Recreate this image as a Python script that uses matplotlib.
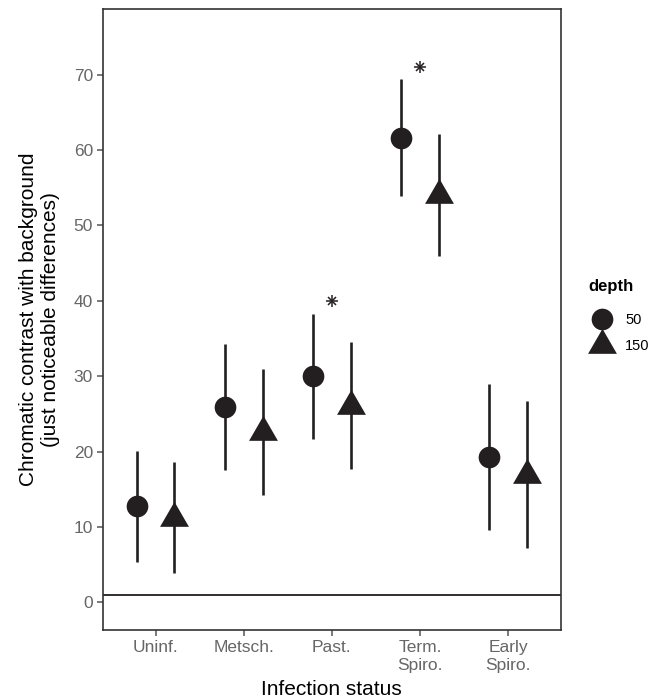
import numpy as np
import matplotlib.pyplot as plt
from matplotlib.path import Path

plt.rcParams['font.family'] = ['Liberation Sans', 'DejaVu Sans']

# Data (means and 95% CI bounds)
status = ['Uninf.', 'Metsch.', 'Past.', 'Term.\nSpiro.', 'Early\nSpiro.']
mean_50 = [12.8, 25.9, 30.0, 61.6, 19.3]
low_50 = [5.4, 17.6, 21.7, 53.9, 9.6]
high_50 = [20.1, 34.3, 38.3, 69.4, 28.9]
mean_150 = [11.2, 22.6, 26.1, 54.0, 16.9]
low_150 = [3.9, 14.2, 17.7, 46.0, 7.2]
high_150 = [18.6, 30.9, 34.5, 62.1, 26.7]
star_pos = [3, 4]
star_y = [40.0, 71.0]
threshold = 1

ink = '#231f20'
grey = '#666666'

# triangle centred on its centroid, like R's pch 17
tri = Path([(0, 1), (-0.866, -0.5), (0.866, -0.5), (0, 1)],
           [Path.MOVETO, Path.LINETO, Path.LINETO, Path.CLOSEPOLY])

fig = plt.figure(figsize=(6.62, 7.0), dpi=100)
ax = fig.add_axes([0.155, 0.1, 0.6925, 0.887])

x = np.arange(1, len(status) + 1)
dodge = 0.215

ax.axhline(threshold, color=ink, lw=1.3, zorder=1)

ax.vlines(x - dodge, low_50, high_50, color=ink, lw=1.9, zorder=2)
ax.vlines(x + dodge, low_150, high_150, color=ink, lw=1.9, zorder=2)
h50, = ax.plot(x - dodge, mean_50, 'o', ms=15.6, color=ink, mec='none',
               ls='none', zorder=3, label='50')
h150, = ax.plot(x + dodge, mean_150, marker=tri, ms=24, color=ink, mec='none',
                ls='none', zorder=3, label='150')

# significance asterisks (pch 8 style)
ax.plot(star_pos, star_y, '+', ms=8, mew=1.1, color=ink, ls='none')
ax.plot(star_pos, star_y, 'x', ms=5.6, mew=1.1, color=ink, ls='none')

ax.set_xlim(0.4, 5.6)
ax.set_ylim(-3.67, 78.7)
ax.set_xticks(x)
ax.set_xticklabels(status, linespacing=1.25)
ax.set_yticks(np.arange(0, 80, 10))

ax.tick_params(colors='#555555', labelsize=12.5, length=4, width=1.1,
               labelcolor=grey, pad=3)
for s in ax.spines.values():
    s.set_color('#333333')
    s.set_linewidth(1.2)

ax.set_xlabel('Infection status', fontsize=15, color='black', labelpad=5)
ax.set_ylabel('Chromatic contrast with background\n(just noticeable differences)',
              fontsize=15, color='black', labelpad=10, linespacing=1.15)

fig.text(588 / 662, 1 - 287 / 700, 'depth', fontsize=12, fontweight='bold',
         va='center', ha='left', color='black')
leg = fig.legend(handles=[h50, h150], loc='upper left',
                 bbox_to_anchor=(588 / 662, 1 - 313.5 / 700), frameon=False,
                 fontsize=10.5, handlelength=1.9, handletextpad=0.65,
                 labelspacing=0.81, borderaxespad=0, borderpad=0)

fig.savefig('out.png', dpi=100)
